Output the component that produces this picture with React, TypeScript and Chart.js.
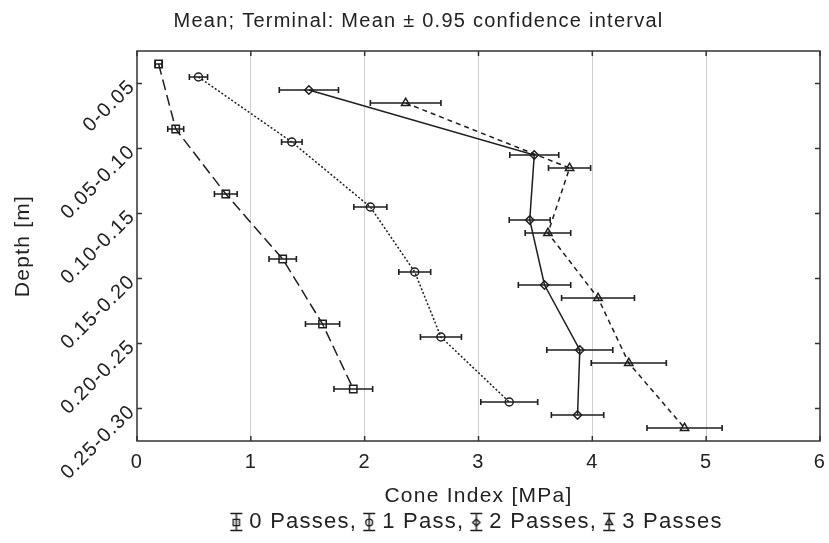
import React, { useEffect, useRef } from 'react';
import { Chart, registerables } from 'chart.js';

Chart.register(...registerables);

// ---- data ----
const depthLabels = ['0-0.05', '0.05-0.10', '0.10-0.15', '0.15-0.20', '0.20-0.25', '0.25-0.30'];
const seriesNames = ['0 Passes', '1 Pass', '2 Passes', '3 Passes'];
const legendTexts = ['0 Passes,', '1 Pass,', '2 Passes,', '3 Passes'];
const pass0Mean = [0.19, 0.34, 0.78, 1.28, 1.63, 1.9];
const pass0Ci = [0.03, 0.07, 0.1, 0.12, 0.15, 0.17];
const pass1Mean = [0.54, 1.36, 2.05, 2.44, 2.67, 3.27];
const pass1Ci = [0.08, 0.09, 0.145, 0.14, 0.18, 0.25];
const pass2Mean = [1.51, 3.49, 3.45, 3.58, 3.89, 3.87];
const pass2Ci = [0.26, 0.215, 0.18, 0.23, 0.29, 0.23];
const pass3Mean = [2.36, 3.8, 3.61, 4.05, 4.32, 4.81];
const pass3Ci = [0.31, 0.185, 0.2, 0.32, 0.33, 0.33];
const xTicks = [0, 1, 2, 3, 4, 5, 6];

const means = [pass0Mean, pass1Mean, pass2Mean, pass3Mean];
const cis = [pass0Ci, pass1Ci, pass2Ci, pass3Ci];

// ---- styling ----
const INK = '#1e1e1e';
const TEXT = '#222222';
const FONT = 'Arial, "Liberation Sans", sans-serif';
const groupOffsets = [-0.3, -0.1, 0.1, 0.3];
const markers = ['rect', 'circle', 'rectRot', 'triangle'];
const radii = [5.2, 4, 4.2, 4.8];
const dashes = [[11, 5], [2, 2], [], [5, 4]];

function drawMarker(g: CanvasRenderingContext2D, style: string, r: number, cx: number, cy: number) {
  g.beginPath();
  if (style === 'rect') {
    const s = Math.SQRT1_2 * r;
    g.rect(cx - s, cy - s, 2 * s, 2 * s);
  } else if (style === 'circle') {
    g.arc(cx, cy, r, 0, Math.PI * 2);
  } else if (style === 'rectRot') {
    g.moveTo(cx - r, cy);
    g.lineTo(cx, cy - r);
    g.lineTo(cx + r, cy);
    g.lineTo(cx, cy + r);
    g.closePath();
  } else {
    for (let k = 0; k < 3; k++) {
      const a = (k * 2 * Math.PI) / 3;
      const px = cx + Math.sin(a) * r;
      const py = cy - Math.cos(a) * r;
      if (k === 0) g.moveTo(px, py);
      else g.lineTo(px, py);
    }
    g.closePath();
  }
  g.stroke();
}

function makeIcon(i: number) {
  const c = document.createElement('canvas');
  c.width = 16;
  c.height = 22;
  const g = c.getContext('2d')!;
  g.strokeStyle = INK;
  g.lineWidth = 1.4;
  g.beginPath();
  g.moveTo(2, 2.5);
  g.lineTo(14, 2.5);
  g.moveTo(2, 19.5);
  g.lineTo(14, 19.5);
  g.moveTo(8, 2.5);
  g.lineTo(8, 19.5);
  g.stroke();
  drawMarker(g, markers[i], radii[i] * 0.85, 8, 11.5);
  return c;
}

const spacingPlugin = {
  id: 'letterSpacing',
  beforeLayout(chart: any) {
    chart.ctx.letterSpacing = '1.25px';
  },
  beforeDraw(chart: any) {
    chart.ctx.letterSpacing = '1.25px';
  },
};

const errorBarPlugin = {
  id: 'errorBars',
  afterDatasetsDraw(chart: any) {
    const { ctx } = chart;
    const x = chart.scales.x;
    const y = chart.scales.y;
    ctx.save();
    ctx.strokeStyle = INK;
    ctx.lineWidth = 1.6;
    ctx.setLineDash([]);
    chart.data.datasets.forEach((ds: any, i: number) => {
      ds.data.forEach((pt: any, j: number) => {
        const e = cis[i][j];
        const py = y.getPixelForValue(pt.y);
        const x1 = x.getPixelForValue(pt.x - e);
        const x2 = x.getPixelForValue(pt.x + e);
        ctx.beginPath();
        ctx.moveTo(x1, py);
        ctx.lineTo(x2, py);
        ctx.moveTo(x1, py - 3);
        ctx.lineTo(x1, py + 3);
        ctx.moveTo(x2, py - 3);
        ctx.lineTo(x2, py + 3);
        ctx.stroke();
      });
    });
    ctx.restore();
  },
};

const framePlugin = {
  id: 'frame',
  afterDraw(chart: any) {
    const { ctx, chartArea } = chart;
    const { left, right, top, bottom } = chartArea;
    const x = chart.scales.x;
    const y = chart.scales.y;
    ctx.save();
    ctx.strokeStyle = '#333333';
    ctx.lineWidth = 1.5;
    ctx.setLineDash([]);
    ctx.strokeRect(left, top, right - left, bottom - top);
    ctx.beginPath();
    xTicks.forEach((v) => {
      const px = x.getPixelForValue(v);
      ctx.moveTo(px, bottom);
      ctx.lineTo(px, bottom - 5);
      ctx.moveTo(px, top);
      ctx.lineTo(px, top + 5);
    });
    depthLabels.forEach((_, i) => {
      const py = y.getPixelForValue(i);
      ctx.moveTo(left, py);
      ctx.lineTo(left + 5, py);
      ctx.moveTo(right, py);
      ctx.lineTo(right - 5, py);
    });
    ctx.stroke();
    ctx.restore();
  },
};

export default function App() {
  const ref = useRef<HTMLCanvasElement | null>(null);

  useEffect(() => {
    if (!ref.current) return;
    const icons = seriesNames.map((_, i) => makeIcon(i));
    const chart = new Chart(ref.current, {
      type: 'scatter',
      data: {
        datasets: seriesNames.map((name, i) => ({
          label: name,
          data: means[i].map((m, j) => ({ x: m, y: j + groupOffsets[i] })),
          showLine: true,
          borderColor: INK,
          borderWidth: 1.5,
          borderDash: dashes[i],
          pointStyle: markers[i] as any,
          pointRadius: radii[i],
          pointBorderWidth: 1.5,
          pointBackgroundColor: 'rgba(0,0,0,0)',
          pointBorderColor: INK,
          fill: false,
        })),
      },
      options: {
        animation: false,
        responsive: true,
        maintainAspectRatio: false,
        events: [],
        layout: { padding: { left: 8, right: 0, top: 0, bottom: 0 } },
        plugins: {
          tooltip: { enabled: false },
          title: {
            display: true,
            text: 'Mean; Terminal: Mean \u00b1 0.95 confidence interval',
            color: TEXT,
            font: { family: FONT, size: 20, weight: 'normal', lineHeight: 1.2 },
            padding: { top: 9.5, bottom: 17.5 },
          },
          legend: {
            display: true,
            position: 'bottom',
            fullSize: false,
            labels: {
              color: TEXT,
              font: { family: FONT, size: 22 },
              padding: 10,
              usePointStyle: true,
              pointStyleWidth: 4,
              boxHeight: 21,
              generateLabels: () =>
                legendTexts.map((t, i) => ({
                  text: t,
                  pointStyle: icons[i] as any,
                  fillStyle: 'rgba(0,0,0,0)',
                  strokeStyle: 'rgba(0,0,0,0)',
                  lineWidth: 0,
                  hidden: false,
                  datasetIndex: i,
                  fontColor: TEXT,
                })),
            },
          },
        },
        scales: {
          x: {
            type: 'linear',
            position: 'bottom',
            min: 0,
            max: 6,
            afterBuildTicks: (s: any) => {
              s.ticks = xTicks.map((v) => ({ value: v }));
            },
            afterFit: (s: any) => {
              s.height = 60;
              s.paddingLeft = 0;
              s.paddingRight = 9;
            },
            ticks: {
              color: TEXT,
              font: { family: FONT, size: 20 },
              padding: 9.5,
              callback: (v: any) => String(v),
            },
            grid: {
              drawTicks: false,
              color: (c: any) =>
                c.tick && (c.tick.value === 0 || c.tick.value === 6) ? 'rgba(0,0,0,0)' : '#cfcfcf',
              lineWidth: 1,
            },
            border: { display: false },
            title: {
              display: true,
              text: 'Cone Index [MPa]',
              color: TEXT,
              font: { family: FONT, size: 21, lineHeight: 1.2 },
              padding: { top: 0, bottom: -7.6 },
            },
          },
          y: {
            type: 'linear',
            position: 'left',
            min: -0.5,
            max: 5.5,
            reverse: true,
            afterBuildTicks: (s: any) => {
              s.ticks = depthLabels.map((_, i) => ({ value: i }));
            },
            afterFit: (s: any) => {
              s.width = 129;
            },
            ticks: {
              color: TEXT,
              font: { family: FONT, size: 20 },
              padding: 5,
              minRotation: 45,
              maxRotation: 45,
              callback: (v: any) => depthLabels[v] ?? '',
            },
            grid: { display: false, drawTicks: false },
            border: { display: false },
            title: {
              display: true,
              text: 'Depth [m]',
              color: TEXT,
              font: { family: FONT, size: 21, lineHeight: 1.2 },
              padding: { top: 2.4, bottom: 0 },
            },
          },
        },
      },
      plugins: [spacingPlugin, errorBarPlugin, framePlugin],
    });
    return () => chart.destroy();
  }, []);

  return (
    <div style={{ position: 'absolute', left: 0, top: 0, width: 829, height: 543, background: '#fff' }}>
      <canvas ref={ref} />
    </div>
  );
}
